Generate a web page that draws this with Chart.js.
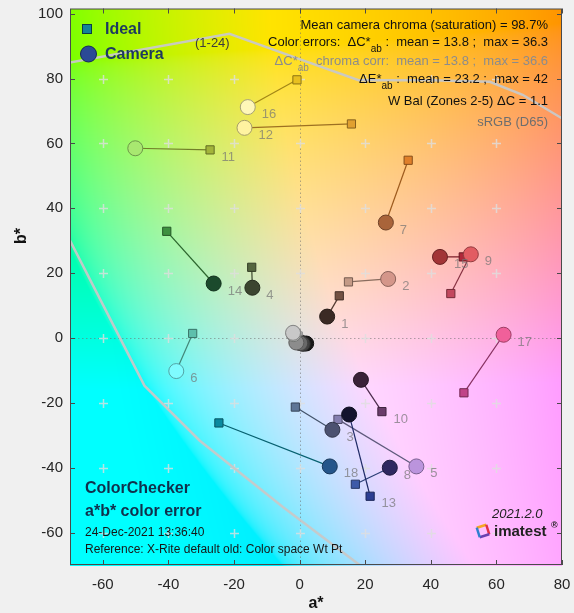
<!DOCTYPE html>
<html>
<head>
<meta charset="utf-8">
<script src="https://cdn.jsdelivr.net/npm/chart.js@4.4.0/dist/chart.umd.min.js"></script>
<style>
html, body { margin: 0; padding: 0; background: #f0f0f0; }
#wrap { width: 574px; height: 613px; }
</style>
</head>
<body>
<div id="wrap"><canvas id="mycanvas" width="574" height="613"></canvas></div>
<script>
// ColorChecker patches 1-24, a*/b*
var patchNames = ['1','2','3','4','5','6','7','8','9','10','11','12','13','14','15','16','17','18','19','20','21','22','23','24'];

var idealA  = [12.1, 14.9, -1.3, -14.6, 11.7, -32.6, 33.1, 17.0, 46.1, 25.1, -27.3, 15.8, 21.5, -40.5, 49.9, -0.8, 50.1, -24.6, -0.4, -0.5, -0.4, -0.2, 0.0, 0.2];
var idealB  = [13.0, 17.3, -21.3, 21.8, -25.1, 1.4, 54.8, -45.1, 13.7, -22.7, 58.0, 66.0, -48.8, 32.9, 25.0, 79.6, -16.9, -26.2, 0.6, 0.3, 0.0, -0.3, -0.5, -0.6];
var cameraA = [8.4, 27.0, 10.0, -14.4, 35.6, -37.6, 26.3, 27.5, 52.2, 18.7, -50.1, -16.8, 15.1, -26.2, 42.8, -15.8, 62.2, 9.2, -2.0, -1.8, -1.0, 0.2, 1.0, 2.0];
var cameraB = [6.6, 18.2, -28.3, 15.5, -39.6, -10.2, 35.6, -40.0, 25.8, -12.9, 58.5, 64.8, -23.6, 16.8, 25.0, 71.2, 1.0, -39.6, 1.6, 1.2, -1.4, -1.6, -1.8, -1.7];

var idealColors  = ['#735244','#c49a86','#5e7596','#556640','#857fb0','#5ebfac','#e0802a','#3e5aa8','#c2485e','#6a3d6a',
                    '#a3b43a','#e0a030','#2c3e92','#3e9040','#b0283a','#e8c020','#c04488','#0a8aa0',
                    '#f0f0f0','#c8c8c8','#a0a0a0','#787878','#505050','#2a2a2a'];
var cameraColors = ['#3b2a24','#d4968a','#4c5170','#3c4530','#bb94dd','#7ffcff','#a9643a','#2e2860','#e25c62','#3a2238',
                    '#a8e870','#fff3a0','#14142e','#1b4a2c','#a23436','#fff7b8','#f0609a','#25558a',
                    '#c8c8c8','#b0b2b0','#8c8c8c','#696969','#414141','#191919'];

var labelAtIdeal = ['10', '11', '13'];
var unlabeled = ['19','20','21','22','23','24'];

var xTicks = [-60, -40, -20, 0, 20, 40, 60, 80];
var yTicks = [-60, -40, -20, 0, 20, 40, 60, 80, 100];
var crossA = [-60, -40, -20, 0, 20, 40, 60];
var crossB = [-60, -40, -20, 0, 20, 40, 60, 80];

// light gray gamut outline
var gamutTopA = [-73, -21.4, 0, 18, 40, 58, 68, 82];
var gamutTopB = [84.4, 93.8, 86.0, 79.5, 79.5, 79.0, 75.0, 66.5];
var gamutLowA = [-72, -47.3, -30.5, -5.1, 18.3, 22];
var gamutLowB = [34, -14.7, -31.6, -52.1, -70, -73];

var statLines = [
  [['Mean camera chroma (saturation) = 98.7%', 0]],
  [['Color errors:  \u0394C*', 0], ['ab', 1], [' :  mean = 13.8 ;  max = 36.3', 0]],
  [['\u0394C*', 0], ['ab', 1], ['  chroma corr:  mean = 13.8 ;  max = 36.6', 0]],
  [['\u0394E*', 0], ['ab', 1], [' :  mean = 23.2 ;  max = 42', 0]],
  [['W Bal (Zones 2-5) \u0394C = 1.1', 0]],
  [['sRGB (D65)', 0]]
];
var statColors = ['#111', '#111', '#8c8c8c', '#111', '#111', '#6e6e6e'];
var statY = [25, 42, 61, 79.5, 101.5, 122.5];

var FONT = "'Liberation Sans', Arial, sans-serif";

function shade(hex, f) {
  var n = parseInt(hex.slice(1), 16);
  var r = (n >> 16) & 255, g = (n >> 8) & 255, b = n & 255;
  return 'rgb(' + Math.round(r * f) + ',' + Math.round(g * f) + ',' + Math.round(b * f) + ')';
}

function labToRgb(L, a, b) {
  var fy = (L + 16) / 116, fx = fy + a / 500, fz = fy - b / 200;
  function finv(t) { return t > 6 / 29 ? t * t * t : 3 * (6 / 29) * (6 / 29) * (t - 4 / 29); }
  var X = 0.95047 * finv(fx), Y = finv(fy), Z = 1.08883 * finv(fz);
  var r = 3.2406 * X - 1.5372 * Y - 0.4986 * Z;
  var g = -0.9689 * X + 1.8758 * Y + 0.0415 * Z;
  var bl = 0.0557 * X - 0.2040 * Y + 1.0570 * Z;
  function gam(c) {
    c = Math.min(1, Math.max(0, c));
    return 255 * (c <= 0.0031308 ? 12.92 * c : 1.055 * Math.pow(c, 1 / 2.4) - 0.055);
  }
  return [gam(r), gam(g), gam(bl)];
}

// datasets built from the arrays
var cameraPts = [], cameraFill = [], cameraEdge = [];
var idealPts = [], idealFill = [], idealEdge = [];
var linkPts = [], linkColors = [];
for (var i = patchNames.length - 1; i >= 0; i--) {
  cameraPts.push({x: cameraA[i], y: cameraB[i]});
  cameraFill.push(cameraColors[i]);
  cameraEdge.push(shade(cameraColors[i], 0.65));
  idealPts.push({x: idealA[i], y: idealB[i]});
  idealFill.push(idealColors[i]);
  idealEdge.push(shade(idealColors[i], 0.6));
}
for (var k = 0; k < patchNames.length; k++) {
  linkPts.push({x: idealA[k], y: idealB[k]}, {x: cameraA[k], y: cameraB[k]}, {x: null, y: null});
  linkColors.push(shade(idealColors[k], 0.7));
}
var gamutTop = gamutTopA.map(function (a, j) { return {x: a, y: gamutTopB[j]}; });
var gamutLow = gamutLowA.map(function (a, j) { return {x: a, y: gamutLowB[j]}; });

var bgCache = null;
var backgroundPlugin = {
  id: 'labBackground',
  beforeDatasetsDraw: function (chart) {
    var ctx = chart.ctx, area = chart.chartArea;
    var xs = chart.scales.x, ys = chart.scales.y;
    var w = Math.round(area.right - area.left), h = Math.round(area.bottom - area.top);
    if (!bgCache) {
      bgCache = document.createElement('canvas');
      bgCache.width = w; bgCache.height = h;
      var c2 = bgCache.getContext('2d');
      var img = c2.createImageData(w, h);
      for (var py = 0; py < h; py++) {
        var bv = ys.getValueForPixel(area.top + py + 0.5);
        for (var px = 0; px < w; px++) {
          var av = xs.getValueForPixel(area.left + px + 0.5);
          var rgb = labToRgb(90, av, bv);
          var o = (py * w + px) * 4;
          img.data[o] = rgb[0]; img.data[o + 1] = rgb[1]; img.data[o + 2] = rgb[2]; img.data[o + 3] = 255;
        }
      }
      c2.putImageData(img, 0, 0);
    }
    ctx.save();
    ctx.drawImage(bgCache, area.left, area.top);

    // dotted zero lines
    ctx.strokeStyle = 'rgba(110,110,110,0.55)';
    ctx.lineWidth = 1;
    ctx.setLineDash([1.5, 2.5]);
    var x0 = Math.round(xs.getPixelForValue(0)) + 0.5, y0 = Math.round(ys.getPixelForValue(0)) + 0.5;
    ctx.beginPath();
    ctx.moveTo(x0, area.top); ctx.lineTo(x0, area.bottom);
    ctx.moveTo(area.left, y0); ctx.lineTo(area.right, y0);
    ctx.stroke();
    ctx.setLineDash([]);

    // + marks at grid crossings
    ctx.strokeStyle = 'rgba(222,222,222,0.8)';
    ctx.lineWidth = 1.5;
    crossA.forEach(function (a) {
      crossB.forEach(function (b) {
        var cx = Math.round(xs.getPixelForValue(a)) + 0.5, cy = Math.round(ys.getPixelForValue(b)) + 0.5;
        ctx.beginPath();
        ctx.moveTo(cx - 4.5, cy); ctx.lineTo(cx + 4.5, cy);
        ctx.moveTo(cx, cy - 4.5); ctx.lineTo(cx, cy + 4.5);
        ctx.stroke();
      });
    });
    ctx.restore();
  }
};

function drawRich(ctx, parts, rightX, y, color) {
  var widths = parts.map(function (p) {
    ctx.font = (p[1] ? '10px ' : '13px ') + FONT;
    return ctx.measureText(p[0]).width;
  });
  var total = widths.reduce(function (s, v) { return s + v; }, 0);
  var x = rightX - total;
  ctx.fillStyle = color;
  ctx.textAlign = 'left';
  ctx.textBaseline = 'middle';
  parts.forEach(function (p, j) {
    ctx.font = (p[1] ? '10px ' : '13px ') + FONT;
    ctx.fillText(p[0], x, p[1] ? y + 7 : y);
    x += widths[j];
  });
}

var overlayPlugin = {
  id: 'overlay',
  afterDatasetsDraw: function (chart) {
    var ctx = chart.ctx, area = chart.chartArea;
    var xs = chart.scales.x, ys = chart.scales.y;
    ctx.save();

    // patch numbers
    ctx.font = '13px ' + FONT;
    ctx.fillStyle = 'rgba(115,115,115,0.7)';
    ctx.textAlign = 'left';
    ctx.textBaseline = 'middle';
    patchNames.forEach(function (name, j) {
      if (unlabeled.indexOf(name) >= 0) return;
      var atIdeal = labelAtIdeal.indexOf(name) >= 0;
      var px = xs.getPixelForValue(atIdeal ? idealA[j] : cameraA[j]);
      var py = ys.getPixelForValue(atIdeal ? idealB[j] : cameraB[j]);
      ctx.fillText(name, px + (atIdeal ? 11.5 : 14), py + 7.5);
    });

    // box + inward ticks
    ctx.strokeStyle = '#4a4a4a';
    ctx.lineWidth = 1;
    ctx.strokeRect(area.left + 0.5, area.top + 0.5, area.right - area.left - 1, area.bottom - area.top - 1);
    ctx.beginPath();
    xTicks.forEach(function (v) {
      var px = Math.round(xs.getPixelForValue(v)) + 0.5;
      ctx.moveTo(px, area.bottom); ctx.lineTo(px, area.bottom - 5);
      ctx.moveTo(px, area.top); ctx.lineTo(px, area.top + 5);
    });
    yTicks.forEach(function (v) {
      var py = Math.round(ys.getPixelForValue(v)) + 0.5;
      ctx.moveTo(area.left, py); ctx.lineTo(area.left + 5, py);
      ctx.moveTo(area.right, py); ctx.lineTo(area.right - 5, py);
    });
    ctx.stroke();

    // legend
    ctx.fillStyle = '#14829a';
    ctx.strokeStyle = '#0b3c48';
    ctx.fillRect(82.5, 24.5, 9, 9);
    ctx.strokeRect(82.5, 24.5, 9, 9);
    ctx.beginPath();
    ctx.arc(88.5, 54, 8, 0, Math.PI * 2);
    ctx.fillStyle = '#2b4a96';
    ctx.fill();
    ctx.strokeStyle = '#16285a';
    ctx.stroke();
    ctx.font = 'bold 16px ' + FONT;
    ctx.fillStyle = '#1d3a5f';
    ctx.fillText('Ideal', 105, 29.5);
    ctx.fillText('Camera', 105, 54.5);

    ctx.font = '13px ' + FONT;
    ctx.fillStyle = '#3c3c3c';
    ctx.fillText('(1-24)', 195, 43);

    // stats block
    statLines.forEach(function (parts, j) {
      drawRich(ctx, parts, 548, statY[j], statColors[j]);
    });

    // bottom-left titles
    ctx.textAlign = 'left';
    ctx.fillStyle = '#10304c';
    ctx.font = 'bold 16px ' + FONT;
    ctx.fillText('ColorChecker', 85, 489);
    ctx.fillText('a*b* color error', 85, 511.5);
    ctx.fillStyle = '#161616';
    ctx.font = '12px ' + FONT;
    ctx.fillText('24-Dec-2021 13:36:40', 85, 533);
    ctx.fillText('Reference: X-Rite default old: Color space Wt Pt', 85, 550);

    // version + logo
    ctx.font = 'italic 13px ' + FONT;
    ctx.fillStyle = '#222';
    ctx.fillText('2021.2.0', 492, 514);
    ctx.save();
    ctx.translate(483, 531);
    ctx.rotate(-0.3);
    ctx.lineWidth = 2.5;
    var sq = [['#f5a623', -5, -5, 5, -5], ['#e0304a', 5, -5, 5, 5], ['#6a3fb0', 5, 5, -5, 5], ['#2f7fd0', -5, 5, -5, -5]];
    sq.forEach(function (s) {
      ctx.strokeStyle = s[0];
      ctx.beginPath(); ctx.moveTo(s[1], s[2]); ctx.lineTo(s[3], s[4]); ctx.stroke();
    });
    ctx.restore();
    ctx.font = 'bold 15px ' + FONT;
    ctx.fillStyle = '#222';
    ctx.fillText('imatest', 494, 532);
    ctx.font = 'bold 9px ' + FONT;
    ctx.fillText('\u00ae', 551, 526);

    // y title
    ctx.save();
    ctx.translate(22, 236);
    ctx.rotate(-Math.PI / 2);
    ctx.textAlign = 'center';
    ctx.font = 'bold 16px ' + FONT;
    ctx.fillStyle = '#111';
    ctx.fillText('b*', 0, 0);
    ctx.restore();

    ctx.restore();
  }
};

var data = {
  datasets: [
    {
      label: 'Camera',
      data: cameraPts,
      pointStyle: 'circle',
      pointRadius: 7.5,
      backgroundColor: cameraFill,
      borderColor: cameraEdge,
      borderWidth: 1,
      order: 0
    },
    {
      label: 'Ideal',
      data: idealPts,
      pointStyle: 'rect',
      pointRadius: 5.8,
      backgroundColor: idealFill,
      borderColor: idealEdge,
      borderWidth: 1,
      order: 1
    },
    {
      label: 'links',
      data: linkPts,
      showLine: true,
      pointRadius: 0,
      borderWidth: 1.2,
      borderColor: '#666',
      segment: {
        borderColor: function (c) { return linkColors[Math.floor(c.p0DataIndex / 3)]; }
      },
      order: 2
    },
    {
      label: 'gamut top',
      data: gamutTop,
      showLine: true,
      pointRadius: 0,
      borderWidth: 2.5,
      borderColor: 'rgba(200,200,200,0.95)',
      clip: 0,
      order: 3
    },
    {
      label: 'gamut low',
      data: gamutLow,
      showLine: true,
      pointRadius: 0,
      borderWidth: 2.5,
      borderColor: 'rgba(200,200,200,0.95)',
      clip: 0,
      order: 3
    }
  ]
};

var config = {
  type: 'scatter',
  data: data,
  options: {
    responsive: false,
    animation: false,
    devicePixelRatio: 1,
    events: [],
    layout: { padding: { left: 0, right: 12, top: 7, bottom: 0 } },
    plugins: { legend: { display: false }, tooltip: { enabled: false } },
    scales: {
      x: {
        type: 'linear',
        min: -70,
        max: 80,
        afterBuildTicks: function (s) { s.ticks = xTicks.map(function (v) { return {value: v}; }); },
        afterFit: function (s) { s.height = 48; s.paddingLeft = 0; s.paddingRight = 0; },
        grid: { display: false, drawTicks: false },
        border: { display: false },
        ticks: { padding: 11, color: '#262626', font: { family: FONT, size: 15 }, maxRotation: 0, autoSkip: false },
        title: { display: true, text: 'a*', color: '#111', font: { family: FONT, size: 16, weight: 'bold' }, padding: { top: 0, bottom: 0 } }
      },
      y: {
        type: 'linear',
        min: -70,
        max: 101.6,
        afterBuildTicks: function (s) { s.ticks = yTicks.map(function (v) { return {value: v}; }); },
        afterFit: function (s) { s.width = 70; s.paddingTop = 0; s.paddingBottom = 0; },
        grid: { display: false, drawTicks: false },
        border: { display: false },
        ticks: { padding: 7, color: '#262626', font: { family: FONT, size: 15 }, autoSkip: false }
      }
    }
  },
  plugins: [backgroundPlugin, overlayPlugin]
};

var myChart = new Chart(document.getElementById('mycanvas'), config);
</script>
</body>
</html>
